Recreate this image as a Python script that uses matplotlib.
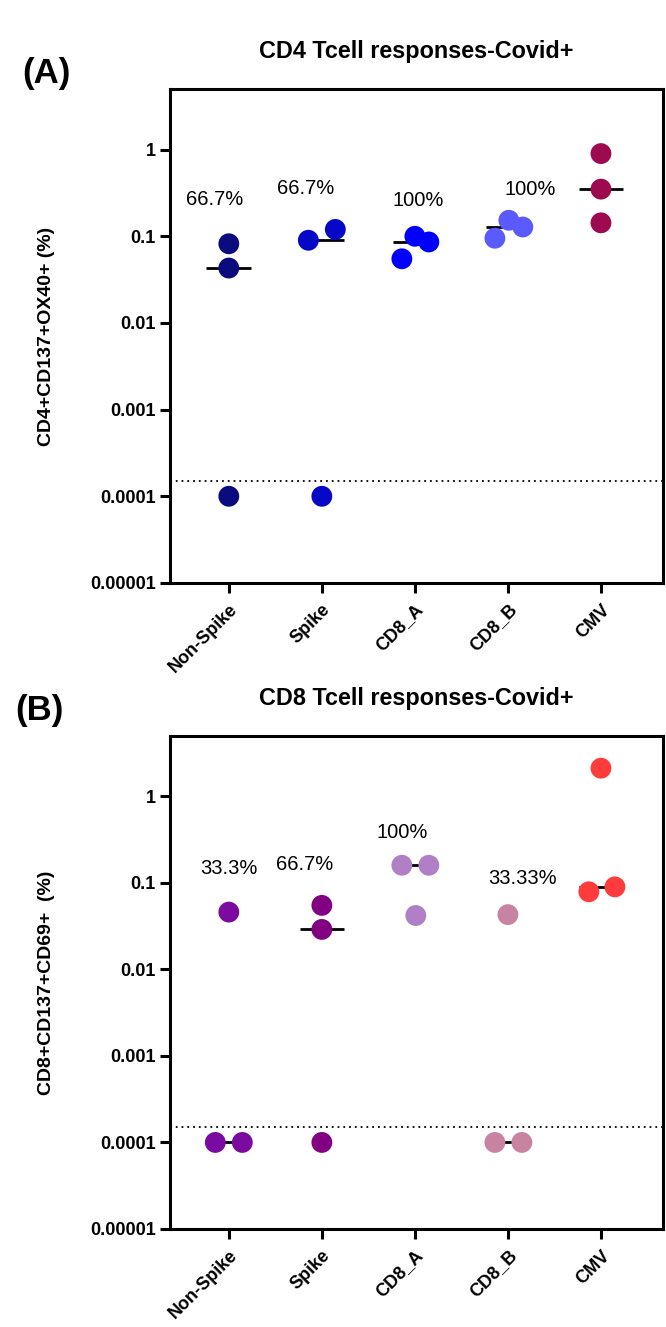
import numpy as np
import matplotlib
matplotlib.use('Agg')
import matplotlib.pyplot as plt

plt.rcParams['font.family'] = ['Liberation Sans', 'DejaVu Sans']

categories = ['Non-Spike', 'Spike', 'CD8_A', 'CD8_B', 'CMV']

# CD4 panel values (%)
cd4_nonspike = [0.082, 0.043, 0.0001]
cd4_spike = [0.09, 0.12, 0.0001]
cd4_cd8a = [0.055, 0.1, 0.086]
cd4_cd8b = [0.095, 0.153, 0.128]
cd4_cmv = [0.9, 0.35, 0.143]
cd4_pct = ['66.7%', '66.7%', '100%', '100%']

# CD8 panel values (%)
cd8_nonspike = [0.046, 0.0001, 0.0001]
cd8_spike = [0.055, 0.029, 0.0001]
cd8_cd8a = [0.16, 0.16, 0.042]
cd8_cd8b = [0.043, 0.0001, 0.0001]
cd8_cmv = [2.12, 0.079, 0.09]
cd8_pct = ['33.3%', '66.7%', '100%', '33.33%']

cutoff = 1.5e-4

# layout: horizontal spread of points within a column
cd4_jitter = [[0, 0, 0], [-0.145, 0.145, 0], [-0.14, 0, 0.15],
              [-0.14, 0.01, 0.16], [0, 0, 0]]
cd8_jitter = [[0, -0.145, 0.145], [0, 0, 0], [-0.14, 0.15, 0.01],
              [0, -0.14, 0.15], [0, -0.13, 0.15]]
cd4_pct_pos = [(-0.15, 0.268), (-0.17, 0.36), (0.04, 0.261), (0.24, 0.35)]
cd8_pct_pos = [(0.0, 0.148), (-0.18, 0.163), (-0.14, 0.387), (0.16, 0.112)]

cd4_colors = ['#0b0b80', '#0707c8', '#0000ff', '#5a5aff', '#9e0a50']
cd8_colors = ['#7a0aa0', '#820082', '#b07fc6', '#c882a2', '#ff3c3c']

yticks = [1e-5, 1e-4, 1e-3, 1e-2, 1e-1, 1]
ytick_labels = ['0.00001', '0.0001', '0.001', '0.01', '0.1', '1']


def draw_panel(ax, groups, jitter, colors, pct, pct_pos, title, ylabel):
    x = np.arange(len(categories))
    for i, vals in enumerate(groups):
        med = np.median(vals)
        ax.plot([x[i] - 0.24, x[i] + 0.24], [med, med], color='black',
                lw=2.0, zorder=2, solid_capstyle='butt')
        ax.scatter(x[i] + np.array(jitter[i]), vals, s=225, color=colors[i],
                   edgecolors='none', zorder=3, clip_on=False)
    for lab, (dx, yv), xi in zip(pct, pct_pos, x):
        ax.text(xi + dx, yv, lab, ha='center', va='center', fontsize=14.5)
    ax.axhline(cutoff, color='black', lw=1.3, ls=(0, (1, 2.2)), zorder=1)

    ax.set_yscale('log')
    ax.set_ylim(1e-5, 5)
    ax.set_xlim(-0.634, 4.667)
    ax.set_yticks(yticks)
    ax.set_yticklabels(ytick_labels, fontsize=13, fontweight='bold')
    ax.yaxis.set_minor_locator(matplotlib.ticker.NullLocator())
    ax.set_xticks(x)
    ax.set_xticklabels(categories, rotation=45, ha='right', va='top',
                       rotation_mode='anchor', fontsize=13, fontweight='bold')
    ax.tick_params(axis='both', length=7, width=2.2, pad=3)
    ax.tick_params(axis='x', pad=6)
    for sp in ax.spines.values():
        sp.set_linewidth(2.2)
    ax.text(0.5, 1.075, title, transform=ax.transAxes, ha='center',
            va='center', fontsize=16.8, fontweight='bold')
    ax.set_ylabel(ylabel, fontsize=14, fontweight='bold')
    ax.yaxis.set_label_coords(-0.233, 0.5)


fig = plt.figure(figsize=(6.66, 13.27), dpi=100)
ax_a = fig.add_axes([0.255, 0.5607, 0.7405, 0.3722])
ax_b = fig.add_axes([0.255, 0.0739, 0.7405, 0.3715])

draw_panel(ax_a, [cd4_nonspike, cd4_spike, cd4_cd8a, cd4_cd8b, cd4_cmv],
           cd4_jitter, cd4_colors, cd4_pct, cd4_pct_pos,
           'CD4 Tcell responses-Covid+', 'CD4+CD137+OX40+ (%)')
draw_panel(ax_b, [cd8_nonspike, cd8_spike, cd8_cd8a, cd8_cd8b, cd8_cmv],
           cd8_jitter, cd8_colors, cd8_pct, cd8_pct_pos,
           'CD8 Tcell responses-Covid+', 'CD8+CD137+CD69+  (%)')

fig.text(0.07, 0.9446, '(A)', ha='center', va='center', fontsize=25,
         fontweight='bold')
fig.text(0.059, 0.4646, '(B)', ha='center', va='center', fontsize=25,
         fontweight='bold')

fig.savefig('out.png', dpi=100)
